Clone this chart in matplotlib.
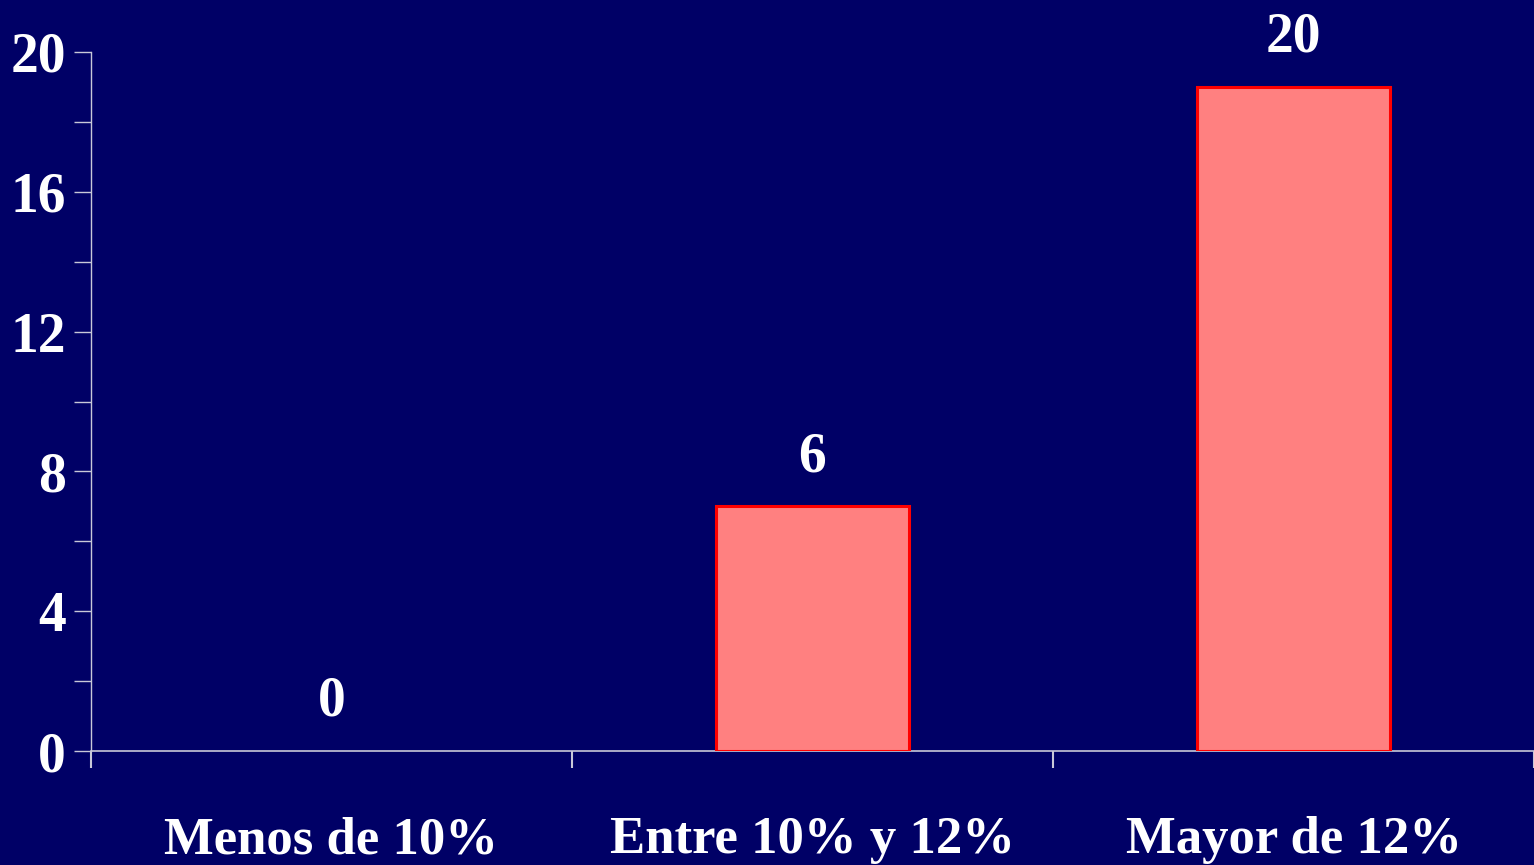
import matplotlib
matplotlib.use("Agg")
import matplotlib.pyplot as plt
from matplotlib.ticker import MultipleLocator, FixedLocator

categories = ["Menos de 10%", "Entre 10% y 12%", "Mayor de 12%"]
bar_values = [0, 7, 19]
value_labels = ["0", "6", "20"]
y_ticks = [0, 4, 8, 12, 16, 20]

bg = "#000066"
axis_col = "#C8C8D8"

plt.rcParams["font.family"] = ["Liberation Serif", "DejaVu Serif"]
plt.rcParams["font.weight"] = "bold"

fig = plt.figure(figsize=(15.34, 8.65), dpi=100, facecolor=bg)
ax = fig.add_axes([91 / 1534, 1 - 751 / 865, 1 - 91 / 1534, (751 - 52) / 865])
ax.set_facecolor(bg)

x = list(range(len(categories)))
lws = [2.2 if v > 0 else 0 for v in bar_values]
bars = ax.bar(x, bar_values, width=0.4, color="#FF8080", edgecolor="#FF0000", linewidth=lws, zorder=3)

for xi, v, lab in zip(x, bar_values, value_labels):
    ax.annotate(lab, xy=(xi, v), xytext=(0, 35), textcoords="offset pixels",
                ha="center", va="baseline", color="white", fontsize=40, fontweight="bold")

ax.set_xlim(-0.5, len(categories) - 0.5)
ax.set_ylim(0, 20)

ax.yaxis.set_major_locator(FixedLocator(y_ticks))
ax.yaxis.set_minor_locator(MultipleLocator(2))
ax.tick_params(axis="y", which="both", direction="out", length=12, width=1, color=axis_col,
               labelcolor="white", labelsize=40, pad=6)
ax.tick_params(axis="y", which="minor", labelleft=False)

# category boundaries as major ticks, labels at centers as minor ticks
ax.xaxis.set_major_locator(FixedLocator([i - 0.5 for i in range(len(categories) + 1)]))
ax.xaxis.set_major_formatter(plt.NullFormatter())
ax.xaxis.set_minor_locator(FixedLocator(x))
ax.set_xticklabels(categories, minor=True)
ax.tick_params(axis="x", which="major", direction="out", length=12, width=1.5, color=axis_col)
ax.tick_params(axis="x", which="minor", length=0, pad=47, labelcolor="white", labelsize=38)

for lbl in ax.get_yticklabels() + ax.get_xticklabels(minor=True):
    lbl.set_fontweight("bold")

for s in ["top", "right"]:
    ax.spines[s].set_visible(False)
ax.spines["left"].set_color(axis_col)
ax.spines["bottom"].set_color(axis_col)
ax.spines["left"].set_linewidth(1)
ax.spines["bottom"].set_linewidth(1.2)

fig.savefig("out.png", dpi=100, facecolor=bg)
